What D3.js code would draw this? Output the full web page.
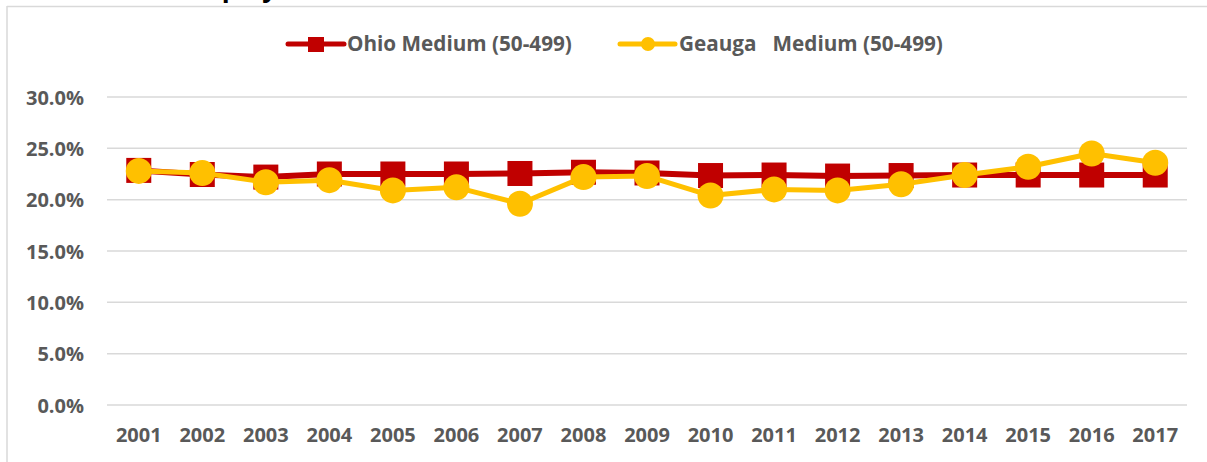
<!DOCTYPE html>
<html>
<head>
<meta charset="utf-8">
<script src="https://cdn.jsdelivr.net/npm/d3@7"></script>
<style>
  html, body { margin: 0; padding: 0; background: #fff; }
  svg { display: block; }
  text { font-family: "Open Sans", "Noto Sans", sans-serif; font-weight: bold; }
</style>
</head>
<body>
<svg id="chart" width="1207" height="462"></svg>
<script>
const years = ["2001","2002","2003","2004","2005","2006","2007","2008","2009","2010","2011","2012","2013","2014","2015","2016","2017"];
const ohioMedium = [0.2285, 0.2245, 0.2220, 0.2250, 0.2250, 0.2250, 0.2255, 0.2267, 0.2260, 0.2235, 0.2240, 0.2230, 0.2235, 0.2240, 0.2240, 0.2240, 0.2240];
const geaugaMedium = [0.2280, 0.2260, 0.2170, 0.2190, 0.2090, 0.2120, 0.1960, 0.2220, 0.2230, 0.2040, 0.2100, 0.2090, 0.2150, 0.2240, 0.2320, 0.2450, 0.2360];
const yTicks = [0, 0.05, 0.10, 0.15, 0.20, 0.25, 0.30];
const seriesNames = ["Ohio Medium (50-499)", "Geauga   Medium (50-499)"];
const titleText = "Medium Employment";

const svg = d3.select("#chart");
const textColor = "#595959";
const red = "#C00000", gold = "#FFC000";

// title (mostly cut off above the frame, as in the reference)
svg.append("text").attr("x", 68).attr("y", -3).attr("font-size", 26)
  .attr("fill", "#000").text(titleText);

// chart frame
svg.append("line").attr("x1", 7).attr("x2", 1207).attr("y1", 6.5).attr("y2", 6.5)
  .attr("stroke", "#D9D9D9").attr("stroke-width", 1.5);
svg.append("line").attr("x1", 7).attr("x2", 7).attr("y1", 6).attr("y2", 462)
  .attr("stroke", "#D9D9D9").attr("stroke-width", 1.5);

const x = d3.scaleBand().domain(years).range([107, 1187]).padding(0);
const y = d3.scaleLinear().domain([0, 0.30]).range([405, 97]);
const cx = d => x(d) + x.bandwidth() / 2;

// gridlines
svg.append("g").selectAll("line").data(yTicks).join("line")
  .attr("x1", 107).attr("x2", 1187)
  .attr("y1", d => y(d)).attr("y2", d => y(d))
  .attr("stroke", "#D9D9D9").attr("stroke-width", 1.5);

// y axis labels
const yAxis = d3.axisLeft(y).tickValues(yTicks).tickFormat(d3.format(".1%")).tickSize(0).tickPadding(0);
const gy = svg.append("g").attr("transform", "translate(84,0)").call(yAxis);
gy.select(".domain").remove();
gy.selectAll("text").attr("font-size", 20).attr("fill", textColor)
  .attr("font-family", "'Open Sans', sans-serif").attr("font-weight", "bold").attr("dy", "0.35em");

// x axis labels
const xAxis = d3.axisBottom(x).tickSize(0).tickPadding(0);
const gx = svg.append("g").attr("transform", "translate(0,428)").call(xAxis);
gx.select(".domain").remove();
gx.selectAll("text").attr("font-size", 20).attr("fill", textColor)
  .attr("font-family", "'Open Sans', sans-serif").attr("font-weight", "bold").attr("dy", "0.71em");

const line = d3.line().x((d, i) => cx(years[i])).y(d => y(d));

// Ohio series
svg.append("path").datum(ohioMedium).attr("d", line).attr("fill", "none")
  .attr("stroke", red).attr("stroke-width", 6).attr("stroke-linejoin", "round");
svg.append("g").selectAll("rect").data(ohioMedium).join("rect")
  .attr("x", (d, i) => cx(years[i]) - 12.5).attr("y", d => y(d) - 12.5)
  .attr("width", 25).attr("height", 25).attr("fill", red);

// Geauga series
svg.append("path").datum(geaugaMedium).attr("d", line).attr("fill", "none")
  .attr("stroke", gold).attr("stroke-width", 5).attr("stroke-linejoin", "round");
svg.append("g").selectAll("circle").data(geaugaMedium).join("circle")
  .attr("cx", (d, i) => cx(years[i])).attr("cy", d => y(d)).attr("r", 13).attr("fill", gold);

// legend
const lg = svg.append("g");
lg.append("line").attr("x1", 288).attr("x2", 344).attr("y1", 44).attr("y2", 44)
  .attr("stroke", red).attr("stroke-width", 5).attr("stroke-linecap", "round");
lg.append("rect").attr("x", 308).attr("y", 37).attr("width", 16).attr("height", 15).attr("fill", red);
lg.append("text").attr("x", 347).attr("y", 44).attr("dy", "0.35em").attr("font-size", 20.7)
  .attr("fill", textColor).text(seriesNames[0]);

lg.append("line").attr("x1", 620).attr("x2", 675).attr("y1", 44).attr("y2", 44)
  .attr("stroke", gold).attr("stroke-width", 5).attr("stroke-linecap", "round");
lg.append("circle").attr("cx", 648).attr("cy", 44).attr("r", 7).attr("fill", gold);
lg.append("text").attr("x", 679).attr("y", 44).attr("dy", "0.35em").attr("font-size", 20.7)
  .attr("fill", textColor).style("white-space", "pre").text(seriesNames[1]);
</script>
</body>
</html>
